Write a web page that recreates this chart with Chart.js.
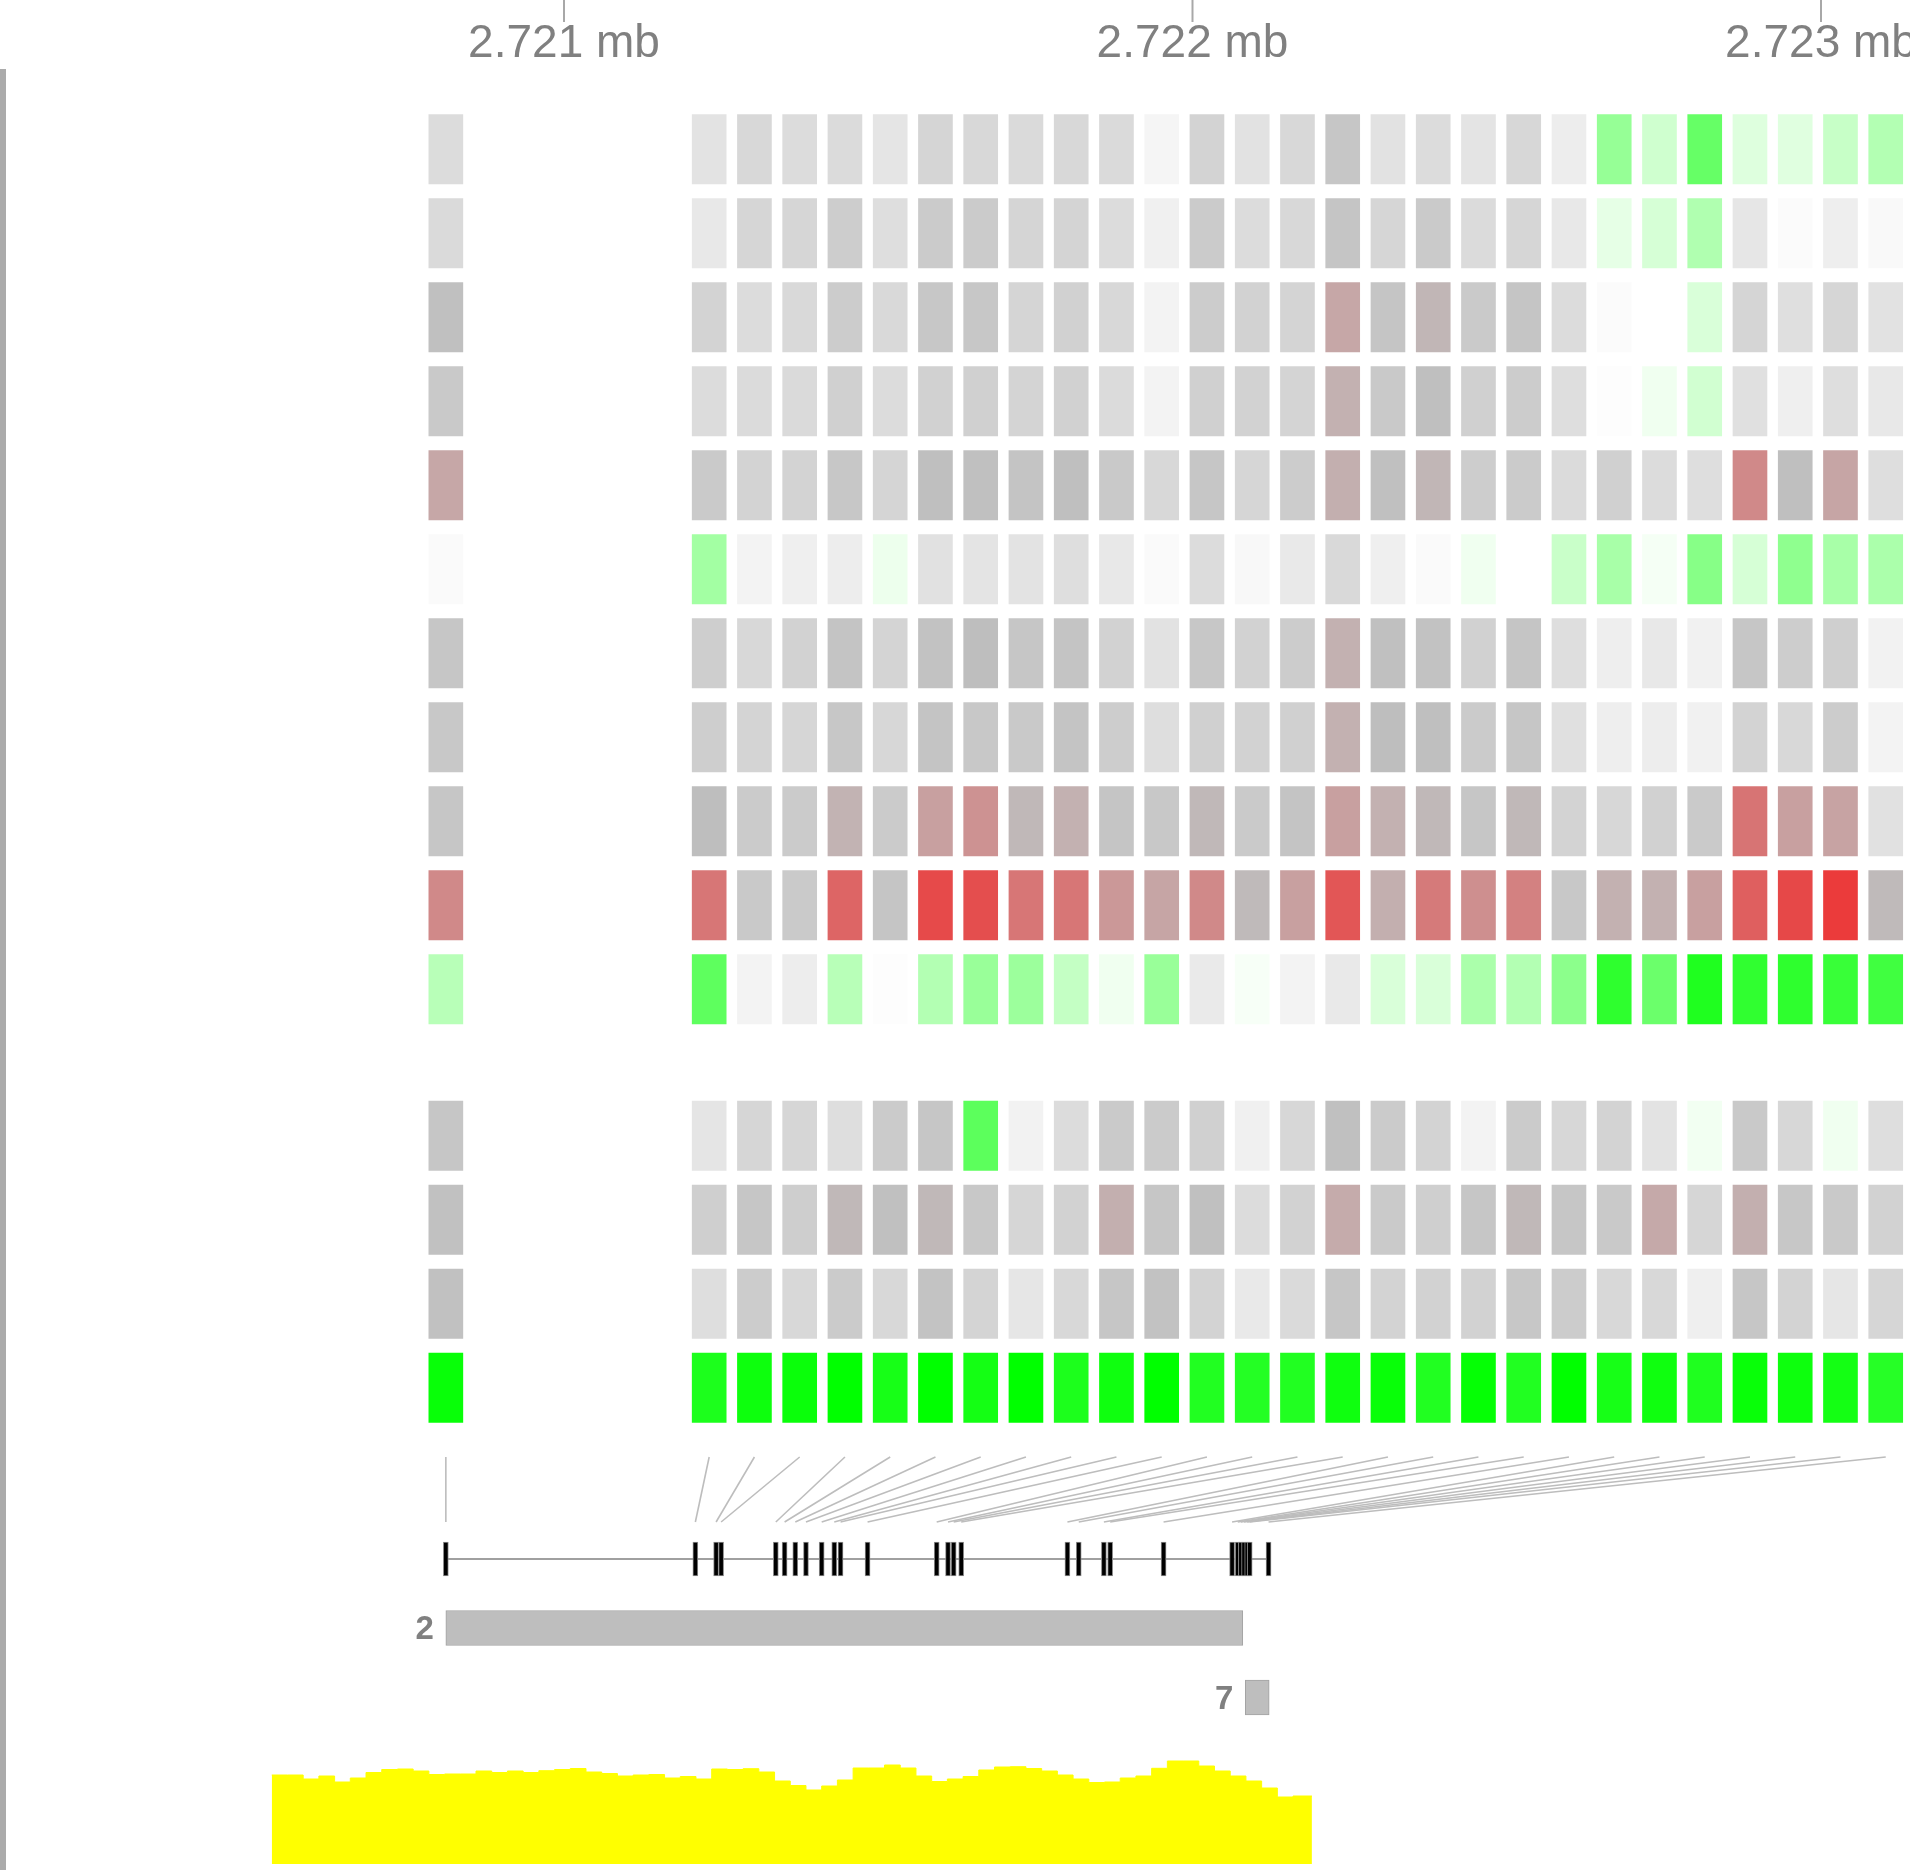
<!DOCTYPE html>
<html>
<head>
<meta charset="utf-8">
<title>Heatmap de sondas - 2.721 mb</title>
<script src="https://cdn.jsdelivr.net/npm/chart.js@4.4.0/dist/chart.umd.min.js"></script>
<style>
    html, body { margin: 0; padding: 0; background: #ffffff; }
    #grafico { display: block; }
</style>
</head>
<body>
<canvas id="grafico" width="1910" height="1870"></canvas>
<script>
// ---- Dados ----
// posições genômicas das sondas (bp)
const posicoesSondas = [2720812, 2721209, 2721242, 2721250, 2721337, 2721351, 2721368, 2721385,
    2721410, 2721430, 2721440, 2721483, 2721593, 2721611, 2721620, 2721632, 2721801, 2721819,
    2721859, 2721869, 2721954, 2722063, 2722072, 2722077, 2722082, 2722087, 2722091, 2722121];

// marcas do eixo superior (bp)
const ticksEixo = [2721000, 2722000, 2723000];

// valores do heatmap: 0 = verde, 1 = branco, 2 = cinza, 3 = vermelho
const linhasHeatmap = [
    [1.54, 1.43, 1.60, 1.54, 1.55, 1.40, 1.65, 1.60, 1.57, 1.60, 1.57, 1.15, 1.68, 1.45, 1.60, 1.88, 1.45, 1.54, 1.42, 1.62, 1.28, 0.59, 0.81, 0.40, 0.87, 0.88, 0.78, 0.70],
    [1.57, 1.35, 1.63, 1.63, 1.77, 1.51, 1.80, 1.80, 1.65, 1.66, 1.54, 1.23, 1.80, 1.54, 1.60, 1.89, 1.63, 1.82, 1.55, 1.63, 1.35, 0.90, 0.84, 0.69, 1.38, 1.06, 1.26, 1.09],
    [1.97, 1.68, 1.54, 1.58, 1.78, 1.58, 1.86, 1.86, 1.65, 1.71, 1.60, 1.18, 1.78, 1.69, 1.66, 2.12, 1.89, 2.04, 1.82, 1.89, 1.54, 1.06, 1.00, 0.85, 1.65, 1.49, 1.63, 1.45],
    [1.83, 1.54, 1.55, 1.57, 1.72, 1.54, 1.71, 1.72, 1.66, 1.71, 1.55, 1.18, 1.72, 1.69, 1.66, 2.07, 1.83, 1.98, 1.72, 1.78, 1.51, 1.03, 0.94, 0.82, 1.48, 1.25, 1.51, 1.35],
    [2.12, 1.82, 1.68, 1.68, 1.86, 1.65, 1.98, 1.97, 1.91, 1.98, 1.83, 1.60, 1.88, 1.63, 1.78, 2.08, 1.97, 2.04, 1.77, 1.80, 1.55, 1.72, 1.54, 1.51, 2.28, 1.98, 2.13, 1.51],
    [1.08, 0.64, 1.18, 1.25, 1.28, 0.93, 1.46, 1.42, 1.43, 1.51, 1.35, 1.08, 1.54, 1.11, 1.34, 1.58, 1.25, 1.08, 0.94, 1.00, 0.79, 0.66, 0.96, 0.53, 0.84, 0.56, 0.66, 0.67],
    [1.88, 1.75, 1.60, 1.69, 1.91, 1.66, 1.94, 2.00, 1.88, 1.91, 1.69, 1.45, 1.86, 1.69, 1.78, 2.07, 1.97, 1.94, 1.71, 1.89, 1.51, 1.26, 1.35, 1.22, 1.88, 1.77, 1.74, 1.20],
    [1.85, 1.75, 1.66, 1.63, 1.86, 1.62, 1.91, 1.85, 1.83, 1.91, 1.77, 1.51, 1.72, 1.69, 1.72, 2.07, 2.00, 1.98, 1.80, 1.88, 1.48, 1.26, 1.28, 1.22, 1.68, 1.60, 1.78, 1.18],
    [1.88, 2.00, 1.80, 1.80, 2.06, 1.80, 2.16, 2.23, 2.03, 2.07, 1.89, 1.85, 2.03, 1.82, 1.91, 2.16, 2.07, 2.03, 1.88, 2.03, 1.68, 1.62, 1.71, 1.82, 2.39, 2.16, 2.14, 1.46],
    [2.28, 2.38, 1.83, 1.82, 2.47, 1.89, 2.61, 2.59, 2.38, 2.38, 2.20, 2.13, 2.28, 2.02, 2.16, 2.55, 2.08, 2.36, 2.25, 2.32, 1.85, 2.07, 2.07, 2.16, 2.50, 2.62, 2.69, 2.02],
    [0.72, 0.37, 1.18, 1.28, 0.72, 1.03, 0.70, 0.60, 0.61, 0.77, 0.94, 0.60, 1.32, 0.97, 1.18, 1.34, 0.85, 0.85, 0.67, 0.70, 0.55, 0.18, 0.42, 0.12, 0.19, 0.18, 0.22, 0.25],
    [1.88, 1.40, 1.63, 1.63, 1.51, 1.80, 1.88, 0.36, 1.20, 1.54, 1.82, 1.80, 1.72, 1.23, 1.62, 1.97, 1.80, 1.68, 1.18, 1.80, 1.62, 1.68, 1.43, 0.95, 1.83, 1.62, 0.94, 1.51],
    [1.95, 1.74, 1.88, 1.75, 2.03, 1.97, 2.03, 1.85, 1.63, 1.69, 2.08, 1.88, 1.97, 1.54, 1.69, 2.10, 1.82, 1.74, 1.88, 2.03, 1.88, 1.83, 2.11, 1.63, 2.08, 1.86, 1.83, 1.69],
    [1.95, 1.51, 1.78, 1.60, 1.80, 1.60, 1.92, 1.66, 1.38, 1.60, 1.88, 1.94, 1.68, 1.34, 1.57, 1.88, 1.68, 1.69, 1.69, 1.86, 1.78, 1.60, 1.60, 1.25, 1.88, 1.68, 1.38, 1.63],
    [0.03, 0.11, 0.05, 0.04, 0.00, 0.09, 0.00, 0.08, 0.00, 0.11, 0.06, 0.00, 0.13, 0.14, 0.13, 0.06, 0.03, 0.13, 0.02, 0.13, 0.00, 0.09, 0.06, 0.12, 0.03, 0.05, 0.08, 0.15]
];

// regiões (caixas cinzas) com rótulos
const regioesRotulos = ['2', '7'];
const regioesInicio = [2720812, 2722084];
const regioesFim = [2722080, 2722122];

// cobertura (área amarela), um valor a cada 25 bp
const coberturaInicio = 2720535;
const coberturaFim = 2722190;
const coberturaPasso = 25;
const cobertura = [89, 89, 85, 88, 82, 86, 91.5, 94.5, 95, 93, 89.5, 90, 90, 93, 91.5, 93, 91.5, 93.3, 94.5, 95.5,
    92, 90.5, 88, 89, 89.5, 86, 87.5, 85, 95, 94.5, 95.3, 92, 83, 78.5, 74, 78, 84, 96, 96, 99,
    96, 88, 82.5, 85, 87.5, 94, 97, 97.3, 95.5, 93, 89, 85, 81.5, 82, 86, 88, 95.7, 103, 103, 98,
    93, 88, 83, 76, 67, 68];

// ---- Layout ----
const pxPorBp = (1821 - 564) / 2000;
const xMin = 2721000 - 564 / pxPorBp;
const xMax = xMin + 1910 / pxPorBp;

const inicioColunas = 2721231;
const passoColunas = 72;
const colunasX = posicoesSondas.map(function (p, i) {
    return i === 0 ? p : inicioColunas + (i - 1) * passoColunas;
});

const topoHeatmap = 114.5, passoLinha = 84, alturaCelula = 69.5;
const quebraGrupo = 11, espacoGrupo = 62.5;
function topoLinha(r) {
    return topoHeatmap + r * passoLinha + (r >= quebraGrupo ? espacoGrupo : 0);
}

// escala de cores verde - branco - cinza - vermelho
const paradasCor = [[0, 255, 0], [255, 255, 255], [190, 190, 190], [255, 0, 0]];
function corEscala(v) {
    const i = Math.min(2, Math.max(0, Math.floor(v)));
    const t = Math.min(1, Math.max(0, v - i));
    const a = paradasCor[i], b = paradasCor[i + 1];
    const c = a.map((x, k) => Math.round(x + (b[k] - x) * t));
    return 'rgb(' + c.join(',') + ')';
}

const datasets = [];

// Heatmap - uma linha por dataset
linhasHeatmap.forEach(function (linha, r) {
    const topo = topoLinha(r);
    datasets.push({
        type: 'bar',
        data: linha.map((v, i) => ({ x: colunasX[i], y: [topo, topo + alturaCelula] })),
        backgroundColor: linha.map(corEscala),
        borderWidth: 0,
        barThickness: 34,
        grouped: false
    });
});

// Linhas ligando colunas às sondas
posicoesSondas.forEach(function (p, i) {
    datasets.push({
        type: 'line',
        data: [{ x: colunasX[i], y: 1457 }, { x: p, y: 1522 }],
        borderColor: '#BDBDBD',
        borderWidth: 1.6,
        pointRadius: 0
    });
});

// Modelo do gene: linha + sondas
datasets.push({
    type: 'line',
    data: [{ x: posicoesSondas[0], y: 1559 }, { x: posicoesSondas[posicoesSondas.length - 1], y: 1559 }],
    borderColor: '#A0A0A0',
    borderWidth: 2,
    pointRadius: 0,
    order: 2
});
datasets.push({
    type: 'bar',
    data: posicoesSondas.map(p => ({ x: p, y: [1542, 1576] })),
    backgroundColor: '#000000',
    borderColor: '#8C8C8C',
    borderWidth: 1,
    borderSkipped: false,
    barThickness: 5,
    grouped: false,
    order: 1
});

// Regiões - barras horizontais flutuantes
datasets.push({
    type: 'bar',
    indexAxis: 'y',
    data: regioesInicio.map((s, i) => ({ y: 1628 + i * 69.5, x: [s, regioesFim[i]] })),
    backgroundColor: '#BEBEBE',
    borderColor: '#A3A3A3',
    borderWidth: 1,
    borderSkipped: false,
    barThickness: 35,
    grouped: false
});

// Cobertura - área amarela
const pontosCobertura = cobertura.map((v, k) => ({ x: coberturaInicio + k * coberturaPasso, y: v }));
pontosCobertura.push({ x: coberturaFim, y: cobertura[cobertura.length - 1] });
datasets.push({
    type: 'line',
    data: pontosCobertura,
    yAxisID: 'yCob',
    stepped: true,
    fill: 'origin',
    backgroundColor: '#FFFF00',
    borderColor: '#FFFF00',
    borderWidth: 1,
    pointRadius: 0
});

// Eixo superior, barra lateral e rótulos das regiões
const decoracoes = {
    id: 'decoracoes',
    afterDatasetsDraw(chart) {
        const ctx = chart.ctx;
        const x = chart.scales.x, y = chart.scales.y;
        ctx.save();

        ctx.fillStyle = '#ABABAB';
        ctx.fillRect(0, 69, 6, 1870 - 69);

        ctx.strokeStyle = '#A8A8A8';
        ctx.lineWidth = 2;
        ctx.fillStyle = '#808080';
        ctx.font = '46px "Liberation Sans", Arial, sans-serif';
        ctx.textAlign = 'center';
        ctx.textBaseline = 'alphabetic';
        ticksEixo.forEach(function (t) {
            const px = x.getPixelForValue(t);
            ctx.beginPath();
            ctx.moveTo(px, 0);
            ctx.lineTo(px, 22);
            ctx.stroke();
            ctx.fillText((t / 1e6).toFixed(3) + ' mb', px, 57);
        });

        ctx.font = 'bold 33px "Liberation Sans", Arial, sans-serif';
        ctx.textAlign = 'right';
        ctx.textBaseline = 'middle';
        regioesRotulos.forEach(function (rot, i) {
            ctx.fillText(rot, x.getPixelForValue(regioesInicio[i]) - 12, y.getPixelForValue(1628 + i * 69.5) + 2);
        });
        ctx.restore();
    }
};

new Chart(document.getElementById('grafico'), {
    type: 'bar',
    data: { datasets: datasets },
    options: {
        responsive: false,
        animation: false,
        devicePixelRatio: 1,
        layout: { padding: 0 },
        plugins: {
            legend: { display: false },
            tooltip: { enabled: false }
        },
        scales: {
            x: { type: 'linear', min: xMin, max: xMax, display: false, offset: false },
            y: { type: 'linear', min: 0, max: 1870, reverse: true, display: false, offset: false },
            yCob: { type: 'linear', min: -6, max: 1864, display: false, offset: false }
        }
    },
    plugins: [decoracoes]
});
</script>
</body>
</html>
